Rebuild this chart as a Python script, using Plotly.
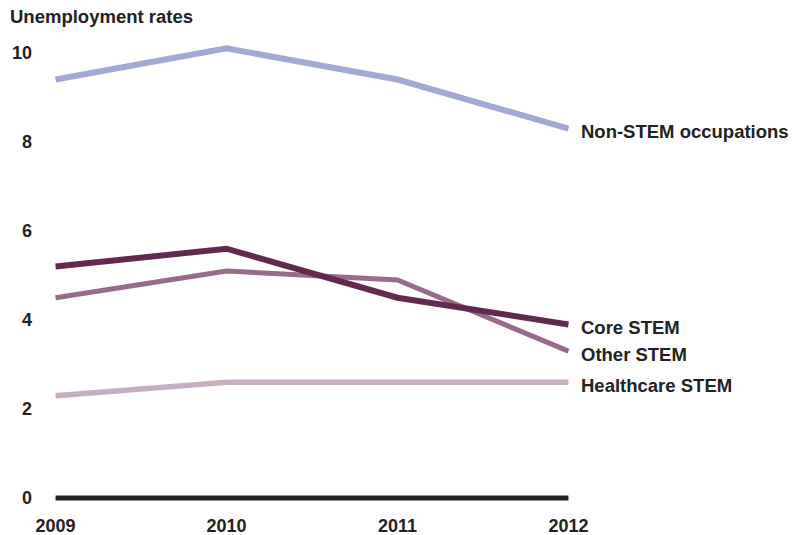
import plotly.graph_objects as go

years = [2009, 2010, 2011, 2012]
non_stem = [9.4, 10.1, 9.4, 8.3]
core_stem = [5.2, 5.6, 4.5, 3.9]
other_stem = [4.5, 5.1, 4.9, 3.3]
healthcare_stem = [2.3, 2.6, 2.6, 2.6]

series = [
    ("Non-STEM occupations", non_stem, "#a2a9d3", 6),
    ("Healthcare STEM", healthcare_stem, "#c6afc1", 5.5),
    ("Other STEM", other_stem, "#976b89", 5),
    ("Core STEM", core_stem, "#632a50", 6),
]

FONT = "Liberation Sans, Arial, sans-serif"
TEXT = "#222222"

fig = go.Figure()
for name, vals, color, width in series:
    fig.add_trace(go.Scatter(
        x=years, y=vals, mode="lines", name=name,
        line=dict(color=color, width=width),
        hoverinfo="x+y+name",
    ))

# End-of-line series labels
for name, vals, color, width in series:
    fig.add_annotation(
        x=years[-1], y=vals[-1], xref="x", yref="y",
        text=f"<b>{name}</b>", showarrow=False,
        xanchor="left", xshift=11, yshift=-3,
        font=dict(family=FONT, size=18.5, color=TEXT),
    )

# Baseline at zero across the year span
fig.add_shape(
    type="line", xref="x", yref="y",
    x0=years[0], x1=years[-1], y0=0, y1=0,
    line=dict(color="#222222", width=5),
)

fig.update_layout(
    width=797, height=535,
    margin=dict(l=47, r=220, t=35, b=28),
    paper_bgcolor="white", plot_bgcolor="white",
    showlegend=False,
    font=dict(family=FONT, size=18, color=TEXT),
    title=dict(
        text="<b>Unemployment rates</b>",
        xref="container", yref="container",
        x=10 / 797, xanchor="left",
        y=1 - 17 / 535, yanchor="middle",
        font=dict(family=FONT, size=18.5, color=TEXT),
        pad=dict(l=0, r=0, t=0, b=0),
    ),
    xaxis=dict(
        range=[2008.95, 2012.05],
        tickvals=years, ticktext=[f"<b>{y}</b>" for y in years],
        showgrid=False, zeroline=False, showline=False, ticks="",
        ticklabelstandoff=6, automargin=False,
        tickfont=dict(family=FONT, size=18, color=TEXT),
        fixedrange=True,
    ),
    yaxis=dict(
        range=[-0.2, 10.4],
        tickvals=[0, 2, 4, 6, 8, 10],
        ticktext=[f"<b>{v}</b>" for v in [0, 2, 4, 6, 8, 10]],
        showgrid=False, zeroline=False, showline=False, ticks="",
        ticklabelstandoff=14, automargin=False,
        tickfont=dict(family=FONT, size=18, color=TEXT),
        fixedrange=True,
    ),
)

fig.write_html("out.html")
